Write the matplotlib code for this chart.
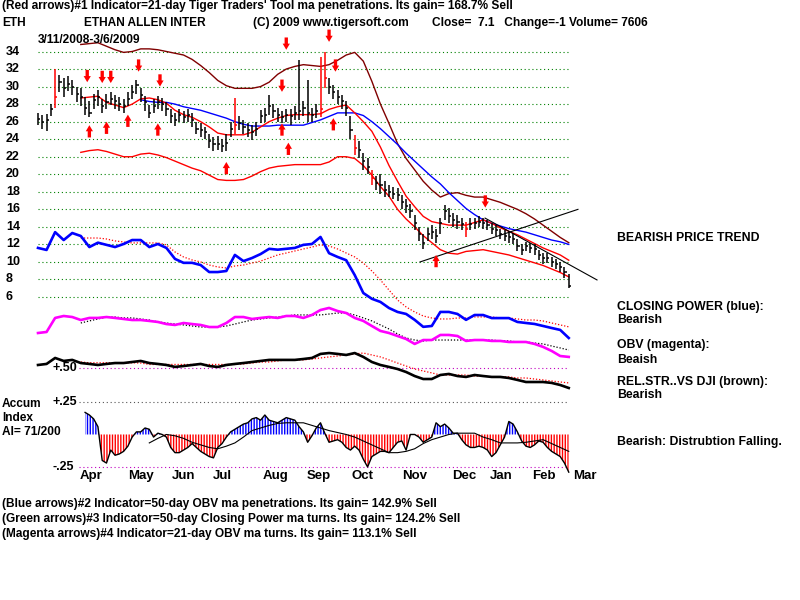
import numpy as np
import matplotlib
matplotlib.use("Agg")
import matplotlib.pyplot as plt
import matplotlib.transforms as mtransforms

plt.rcParams['font.family'] = ['Liberation Sans', 'DejaVu Sans']
plt.rcParams['font.weight'] = 'bold'
plt.rcParams['hatch.linewidth'] = 1.0

nan = np.nan

# ---- price bars, one every 2nd trading day from 3/11/2008 ----
bar_day = np.arange(0, 250, 2)
close = [26.3, 26.0, 26.2, 27.5, 28.8, 30.5, 29.8, 30.3, 30.0, 29.2,
         28.8, 27.6, 27.0, 28.5, 28.8, 27.8, 28.2, 28.6, 28.4, 28.0,
         27.8, 28.6, 29.4, 30.2, 29.0, 28.2, 27.0, 27.8, 28.2, 28.0,
         27.5, 26.6, 26.2, 26.8, 26.5, 26.8, 26.2, 25.2, 25.0, 24.8,
         23.8, 23.4, 23.5, 23.2, 23.6, 25.2, 25.6, 25.8, 25.4, 25.0,
         24.8, 25.2, 26.6, 26.8, 27.8, 27.2, 26.8, 26.5, 26.8, 26.6,
         27.0, 27.2, 27.6, 27.0, 26.8, 27.2, 27.5, 31.0, 30.0, 29.4,
         28.8, 28.3, 27.6, 25.0, 23.0, 22.8, 21.5, 20.8, 19.6, 19.0,
         18.8, 18.2, 18.0, 17.8, 17.6, 16.8, 16.4, 15.8, 14.4, 13.2,
         12.2, 13.2, 13.4, 13.0, 14.4, 15.8, 15.2, 14.8, 14.6, 14.3,
         13.8, 14.3, 14.4, 14.6, 14.4, 14.2, 13.8, 13.6, 13.2, 13.0,
         12.8, 12.6, 11.8, 11.4, 11.8, 11.6, 11.5, 10.8, 10.4, 10.4,
         10.0, 9.8, 9.4, 8.8, 7.3]
low = [25.6, 25.2, 24.9, 26.6, 27.6, 29.4, 28.8, 29.5, 29.0, 28.2,
       27.8, 26.8, 26.5, 27.4, 27.8, 27.0, 27.5, 27.9, 27.5, 27.2,
       27.0, 27.8, 28.6, 29.2, 28.2, 27.2, 26.4, 27.0, 27.5, 27.2,
       26.6, 25.8, 25.5, 26.0, 25.8, 26.0, 25.4, 24.6, 24.2, 24.0,
       23.0, 22.6, 22.8, 22.5, 22.6, 24.3, 24.6, 25.0, 24.6, 24.2,
       23.9, 24.4, 25.8, 26.0, 26.8, 26.4, 26.0, 25.8, 26.0, 25.6,
       26.2, 26.2, 26.6, 26.0, 26.0, 26.4, 26.5, 29.8, 29.2, 28.6,
       28.0, 27.4, 26.6, 24.0, 22.2, 21.8, 20.5, 20.0, 18.8, 18.2,
       17.8, 17.4, 17.4, 17.2, 17.0, 16.0, 15.6, 15.0, 13.6, 12.4,
       11.5, 12.4, 12.6, 12.2, 13.2, 14.8, 14.4, 14.0, 13.8, 13.6,
       12.9, 13.6, 13.8, 14.0, 13.8, 13.6, 13.2, 13.0, 12.6, 12.4,
       12.2, 12.0, 11.2, 10.8, 11.2, 11.0, 10.8, 10.2, 9.8, 9.9,
       9.4, 9.2, 8.8, 8.2, 7.0]
high = [27.0, 26.8, 26.9, 28.0, 32.0, 31.3, 31.0, 31.2, 30.8, 30.0,
        29.8, 28.8, 28.3, 29.2, 29.6, 28.6, 29.1, 29.4, 29.0, 28.8,
        28.6, 29.4, 30.2, 30.8, 29.8, 28.9, 27.9, 28.6, 28.9, 28.7,
        28.2, 27.4, 27.0, 27.5, 27.2, 27.4, 27.0, 26.0, 25.8, 25.4,
        24.6, 24.2, 24.4, 24.0, 24.6, 26.0, 28.7, 26.6, 26.2, 25.8,
        25.6, 26.0, 27.3, 27.6, 29.0, 28.0, 27.6, 27.2, 27.5, 27.4,
        27.8, 33.0, 28.4, 30.7, 27.6, 28.0, 33.4, 34.0, 31.0, 30.2,
        29.6, 29.0, 28.4, 26.6, 24.5, 23.8, 22.4, 21.8, 20.5, 19.8,
        20.0, 19.2, 18.8, 18.6, 18.4, 17.6, 17.2, 16.6, 15.4, 14.0,
        13.2, 13.9, 14.2, 13.8, 15.0, 16.5, 16.2, 15.6, 15.4, 15.0,
        14.6, 15.0, 15.0, 15.2, 15.0, 14.8, 14.4, 14.2, 13.8, 13.6,
        13.5, 13.3, 12.6, 12.0, 12.3, 12.2, 12.1, 11.4, 11.0, 11.0,
        10.6, 10.3, 10.0, 9.4, 8.6]
red_bars = [4, 46, 66, 67, 74, 78, 100]

# accumulation index, same 2-day grid
accum = [nan] * 11 + [
    0.17, 0.15, 0.12, 0.06, -0.2, -0.22, -0.12, -0.16, -0.15, -0.13,
    -0.09, -0.02, 0.02, 0.02, 0.05, 0.04, -0.02, 0.01, 0.0, -0.02,
    -0.1, -0.14, -0.14, -0.12, -0.1, -0.07, -0.1, -0.13, -0.15, -0.17,
    -0.18, -0.1, -0.07, -0.02, 0.02, 0.04, 0.06, 0.08, 0.09, 0.12,
    0.13, 0.11, 0.15, 0.11, 0.1, 0.09, 0.11, 0.13, 0.12, 0.11,
    0.06, 0.02, -0.06, -0.01, 0.05, 0.09, 0.01, -0.06, -0.05, -0.04,
    -0.06, -0.1, -0.12, -0.09, -0.12, -0.19, -0.25, -0.17, -0.15, -0.13,
    -0.13, -0.14, -0.1, -0.06, -0.05, -0.12, 0.0, 0.0, -0.02, -0.06,
    -0.04, -0.02, 0.09, 0.06, 0.08, 0.05, 0.01, 0.01, -0.04, -0.08,
    -0.1, -0.1, -0.09, -0.1, -0.12, -0.17, -0.14, -0.08, -0.02, 0.1,
    0.08, 0.02, -0.05, -0.09, -0.1, -0.08, -0.05, -0.06, -0.1, -0.13,
    -0.15, -0.17, -0.22, -0.29]

# ---- smooth lines, one value every 4th trading day ----
line_day = np.arange(0, 249, 4)
ma21 = [nan] * 5 + [
    28.7, 28.8, 28.9, 28.2, 27.9, 27.6, 28.0, 28.6, 28.7, 28.5,
    28.1, 27.3, 26.8, 26.5, 26.0, 25.4, 24.7, 24.5, 24.5, 24.5,
    24.8, 25.4, 26.0, 26.4, 26.7, 26.8, 26.8, 26.8, 26.9, 27.4,
    27.7, 27.9, 27.0, 26.0, 24.9, 23.1, 21.0, 19.2, 17.5, 16.3,
    15.2, 14.6, 14.4, 14.2, 14.2, 14.2, 14.5, 14.8, 14.4, 13.9,
    13.5, 13.1, 12.6, 12.1, 11.6, 11.2, 10.8, 10.2]
band_hi = [nan] * 5 + [
    34.8, 34.9, 35.0, 34.6, 34.2, 33.9, 34.0, 34.3, 34.3, 34.2,
    34.0, 33.8, 33.6, 33.1, 32.4, 31.6, 30.7, 30.1, 29.8, 29.8,
    29.8, 30.0, 30.5, 31.4, 32.0, 32.3, 32.5, 32.4, 32.3, 32.5,
    33.0, 33.6, 33.9, 32.9, 30.6, 28.0, 25.8, 23.5, 21.8, 20.5,
    19.2, 18.2, 17.4, 17.8, 17.9, 17.6, 17.4, 17.4, 17.1, 16.8,
    16.4, 16.0, 15.5, 14.9, 14.2, 13.5, 12.8, 12.2]
band_lo = [nan] * 5 + [
    22.5, 22.7, 22.8, 22.6, 22.3, 22.0, 22.0, 22.3, 22.4, 22.2,
    21.9, 21.5, 21.1, 20.7, 20.4, 19.9, 19.4, 19.3, 19.3, 19.4,
    19.8, 20.3, 20.7, 20.9, 21.0, 21.1, 21.1, 21.1, 21.1, 21.4,
    22.0, 22.0, 21.8, 21.0, 19.9, 18.6, 17.5, 16.0, 14.9, 14.0,
    13.0, 12.2, 11.4, 11.0, 10.9, 11.2, 11.3, 11.4, 11.2, 11.0,
    10.8, 10.5, 10.2, 9.9, 9.6, 9.2, 8.8, 8.3]
ma50 = [nan] * 12 + [
    28.5, 28.3, 28.2, 28.2, 28.0, 27.7, 27.5, 27.3, 27.0, 26.7,
    26.4, 26.0, 25.7, 25.5, 25.5, 25.5, 25.6, 25.6, 25.6, 25.6,
    25.9, 26.2, 26.6, 27.0, 27.0, 27.0, 26.7, 26.0, 25.2, 24.3,
    23.4, 22.4, 21.5, 20.6, 19.7, 18.9, 17.9, 17.0, 16.1, 15.4,
    14.8, 14.4, 14.1, 13.8, 13.6, 13.4, 13.1, 12.8, 12.5, 12.3, 12.0]

# closing power (blue) drawn on the price scale
cp = [11.6, 11.37, 13.4, 12.5, 13.3, 12.96, 11.7, 12.2, 11.95, 11.7,
      12.05, 12.5, 12.5, 11.7, 12.05, 11.6, 10.35, 9.9, 9.9, 9.65,
      8.85, 8.85, 8.97, 10.8, 10.1, 10.45, 10.9, 11.5, 11.4, 11.5,
      11.6, 11.95, 12.05, 12.85, 11.0, 10.57, 10.2, 8.5, 6.46, 5.8,
      5.44, 4.75, 4.3, 4.07, 3.4, 2.6, 2.7, 4.3, 4.3, 4.07,
      3.4, 3.95, 3.95, 3.6, 3.6, 3.6, 3.16, 3.04, 2.93, 2.7,
      2.47, 2.25, 1.33]
cp_ma = [nan] * 5 + [
    12.73, 12.73, 12.73, 12.62, 12.4, 12.28, 12.17, 12.17, 12.17, 12.17,
    11.95, 11.14, 10.57, 10.23, 10.0, 9.65, 9.43, 9.31, 9.54, 9.65,
    9.88, 10.1, 10.45, 10.8, 11.02, 11.25, 11.48, 11.7, 11.95, 11.82,
    11.48, 11.02, 10.57, 9.88, 8.97, 7.94, 6.8, 5.66, 4.87, 4.3,
    3.84, 3.61, 3.5, 3.5, 3.61, 3.61, 3.73, 3.73, 3.73, 3.61,
    3.61, 3.5, 3.38, 3.38, 3.27, 3.04, 2.82, 2.6]

# OBV (magenta) and relative strength vs DJI (black)
obv = [0.769, 0.777, 0.885, 0.9, 0.892, 0.869, 0.885, 0.885, 0.892, 0.885,
       0.877, 0.869, 0.869, 0.862, 0.854, 0.838, 0.831, 0.846, 0.838, 0.831,
       0.815, 0.815, 0.846, 0.892, 0.892, 0.877, 0.885, 0.892, 0.885, 0.9,
       0.9, 0.885, 0.908, 0.946, 0.962, 0.938, 0.923, 0.885, 0.862, 0.823,
       0.785, 0.769, 0.746, 0.723, 0.685, 0.715, 0.715, 0.754, 0.754, 0.746,
       0.708, 0.715, 0.715, 0.708, 0.708, 0.7, 0.7, 0.7, 0.685, 0.662,
       0.631, 0.592, 0.585]
obv_ma = [nan] * 5 + [
    0.846, 0.862, 0.877, 0.892, 0.892, 0.885, 0.885, 0.877, 0.869, 0.854,
    0.846, 0.838, 0.831, 0.823, 0.815, 0.815, 0.815, 0.823, 0.838, 0.854,
    0.869, 0.877, 0.885, 0.892, 0.9, 0.908, 0.908, 0.908, 0.908, 0.915,
    0.923, 0.923, 0.908, 0.885, 0.862, 0.831, 0.8, 0.762, 0.731, 0.715,
    0.708, 0.715, 0.715, 0.715, 0.715, 0.715, 0.715, 0.715, 0.715, 0.708,
    0.708, 0.7, 0.7, 0.692, 0.685, 0.669, 0.654, 0.638]
rs = [0.523, 0.531, 0.577, 0.554, 0.562, 0.538, 0.531, 0.523, 0.531, 0.538,
      0.538, 0.546, 0.554, 0.538, 0.531, 0.523, 0.508, 0.515, 0.523, 0.531,
      0.515, 0.508, 0.523, 0.531, 0.538, 0.546, 0.554, 0.562, 0.562, 0.562,
      0.562, 0.569, 0.577, 0.608, 0.615, 0.608, 0.6, 0.615, 0.585, 0.546,
      0.523, 0.508, 0.492, 0.469, 0.438, 0.415, 0.415, 0.446, 0.454, 0.438,
      0.431, 0.446, 0.438, 0.431, 0.431, 0.423, 0.408, 0.392, 0.392, 0.392,
      0.385, 0.369, 0.346]
rs_ma = [nan] * 5 + [
    0.546, 0.54, 0.54, 0.54, 0.54, 0.54, 0.54, 0.538, 0.527, 0.527,
    0.527, 0.527, 0.527, 0.527, 0.527, 0.527, 0.527, 0.527, 0.527, 0.531,
    0.538, 0.546, 0.546, 0.554, 0.562, 0.562, 0.562, 0.569, 0.577, 0.585,
    0.592, 0.6, 0.608, 0.615, 0.6, 0.585, 0.562, 0.538, 0.515, 0.492,
    0.477, 0.462, 0.446, 0.446, 0.446, 0.446, 0.438, 0.438, 0.431, 0.431,
    0.431, 0.423, 0.423, 0.415, 0.408, 0.4, 0.392, 0.385]
accum_ma = [nan] * 13 + [
    -0.065, -0.03, 0.0, -0.01, -0.03, -0.06, -0.08, -0.1, -0.11, -0.09,
    -0.065, -0.02, 0.03, 0.05, 0.07, 0.085, 0.09, 0.09, 0.09, 0.07,
    0.05, 0.03, 0.015, 0.0, -0.02, -0.05, -0.08, -0.11, -0.14, -0.14,
    -0.13, -0.11, -0.07, -0.04, -0.02, 0.0, 0.01, 0.01, 0.01, -0.02,
    -0.04, -0.065, -0.065, -0.065, -0.06, -0.05, -0.04, -0.07, -0.1, -0.13]

# signal arrows (trading day, price at arrow tip)
sell_day = [23, 30, 34, 47, 57, 114, 116, 136, 139, 209]
sell_tip = [30.5, 30.4, 30.4, 31.7, 30.0, 29.4, 34.2, 35.1, 31.7, 16.2]
buy_day = [24, 32, 42, 56, 88, 114, 117, 138, 186]
buy_tip = [25.6, 26.0, 26.8, 25.8, 21.4, 25.8, 23.6, 26.4, 10.8]

# trend lines (day, price)
trend_up_day, trend_up_val = [178.5, 252.3], [10.0, 16.0]
trend_dn_day, trend_dn_val = [208.9, 261.2], [15.0, 7.95]

price_levels = list(range(6, 35, 2))
months = ['Apr', 'May', 'Jun', 'Jul', 'Aug', 'Sep', 'Oct', 'Nov', 'Dec', 'Jan', 'Feb', 'Mar']
month_day = [19.6, 42, 62.6, 81.8, 105, 125.7, 146.7, 170, 193.5, 211, 231, 250]

W, H = 800, 600
fig = plt.figure(figsize=(8, 6), dpi=100)
fig.patch.set_facecolor('white')


def box(top, bottom):
    # axes rectangle from pixel rows
    return [30 / W, 1 - bottom / H, 570 / W, (bottom - top) / H]


ax_p = fig.add_axes(box(38, 345))
ax_r = fig.add_axes(box(300, 395))
ax_a = fig.add_axes(box(395, 475))
for ax in (ax_p, ax_r, ax_a):
    ax.set_xlim(-3.74, 262.6)
    ax.axis('off')
    ax.patch.set_alpha(0)
ax_p.set_ylim(0.53, 35.54)
ax_r.set_ylim(0.292, 1.023)
ax_a.set_ylim(-0.312, 0.304)

dots = (0, (1, 2.5))

# price panel
ax_p.hlines(price_levels, 0, 248, colors='#008000', linestyles=dots, lw=0.8)
ylab = mtransforms.blended_transform_factory(fig.transFigure, ax_p.transData)
for v in price_levels:
    ax_p.text(6 / W, v, str(v), transform=ylab, ha='left', va='center', fontsize=9)

ax_p.plot(line_day, band_hi, color='#800000', lw=1)
ax_p.plot(line_day, band_lo, color='red', lw=1)
ax_p.plot(line_day, ma50, color='blue', lw=1)
ax_p.plot(line_day, ma21, color='red', lw=1)

bar_cols = ['red' if i in red_bars else 'black' for i in range(len(close))]
ax_p.vlines(bar_day, low, high, colors=bar_cols, lw=1.1)
ax_p.hlines(close, bar_day, bar_day + 1.0, colors=bar_cols, lw=1.1)

ax_p.plot(trend_up_day, trend_up_val, color='black', lw=0.8)
ax_p.plot(trend_dn_day, trend_dn_val, color='black', lw=0.8)

ax_p.plot(line_day, cp_ma, color='red', lw=0.9, ls=(0, (1, 1.5)))
ax_p.plot(line_day, cp, color='#0000ff', lw=1.9)

arrow = dict(arrowstyle='simple,head_length=0.55,head_width=0.65,tail_width=0.3',
             color='red', lw=0, shrinkA=0, shrinkB=0, mutation_scale=8)
for d, t in zip(sell_day, sell_tip):
    ax_p.annotate('', xy=(d, t), xytext=(d, t + 1.4), arrowprops=arrow, annotation_clip=False)
for d, t in zip(buy_day, buy_tip):
    ax_p.annotate('', xy=(d, t), xytext=(d, t - 1.4), arrowprops=arrow, annotation_clip=False)

# OBV / relative strength
ax_r.hlines(0.5, 19, 248, colors='#c000c0', linestyles=dots, lw=0.8)
ax_r.text(7, 0.5, '+.50', ha='left', va='center', fontsize=9)
ax_r.plot(line_day, obv_ma, color='black', lw=0.9, ls=(0, (1, 1.5)))
ax_r.plot(line_day, obv, color='#ff00ff', lw=1.9)
ax_r.plot(line_day, rs_ma, color='red', lw=0.9, ls=(0, (1, 1.5)))
ax_r.plot(line_day, rs, color='black', lw=1.9)

# accumulation index
acc = np.array(accum)
ax_a.hlines(0.25, 19, 248, colors='#555555', linestyles=dots, lw=0.8)
ax_a.hlines(-0.25, 19, 248, colors='#c000c0', linestyles=dots, lw=0.8)
ax_a.text(7, 0.25, '+.25', ha='left', va='center', fontsize=9)
ax_a.text(7, -0.25, '-.25', ha='left', va='center', fontsize=9)
ax_a.fill_between(bar_day, 0, acc, where=acc >= 0, interpolate=True,
                  facecolor='none', edgecolor='blue', hatch='||||||', lw=0)
ax_a.fill_between(bar_day, 0, acc, where=acc <= 0, interpolate=True,
                  facecolor='none', edgecolor='red', hatch='||||||', lw=0)
ax_a.plot(bar_day, acc, color='black', lw=1)
ax_a.plot(line_day, accum_ma, color='black', lw=0.8)

mon = mtransforms.blended_transform_factory(ax_a.transData, fig.transFigure)
for d, m in zip(month_day, months):
    ax_a.text(d, 1 - 476 / H, m, transform=mon, ha='left', va='center', fontsize=9.5)


# texts
def ftext(x, y, s, size=8.6):
    fig.text(x / W, 1 - y / H, s, ha='left', va='center', fontsize=size)


ftext(2, 6, "(Red arrows)#1 Indicator=21-day Tiger Traders' Tool ma penetrations. Its gain= 168.7% Sell")
ftext(2, 23, "ETH")
ftext(84, 23, "ETHAN ALLEN INTER")
ftext(253, 23, "(C) 2009 www.tigersoft.com")
ftext(432, 23, "Close=  7.1   Change=-1 Volume= 7606")
ftext(38, 40, "3/11/2008-3/6/2009")

ftext(2, 404, "Accum")
ftext(2, 418, "Index")
ftext(2, 432, "AI= 71/200")

ftext(617, 238, "BEARISH PRICE TREND", 8.8)
ftext(617, 307, "CLOSING POWER (blue):", 8.8)
ftext(617, 320, "Bearish", 8.8)
ftext(617, 345, "OBV (magenta):", 8.8)
ftext(617, 360, "Beaish", 8.8)
ftext(617, 382, "REL.STR..VS DJI (brown):", 8.8)
ftext(617, 395, "Bearish", 8.8)
ftext(617, 442, "Bearish: Distrubtion Falling.", 8.8)

ftext(2, 504, "(Blue arrows)#2 Indicator=50-day OBV ma penetrations. Its gain= 142.9% Sell")
ftext(2, 519, "(Green arrows)#3 Indicator=50-day Closing Power ma turns. Its gain= 124.2% Sell")
ftext(2, 534, "(Magenta arrows)#4 Indicator=21-day OBV ma turns. Its gain= 113.1% Sell")

fig.savefig('out.png', dpi=100, facecolor='white')
